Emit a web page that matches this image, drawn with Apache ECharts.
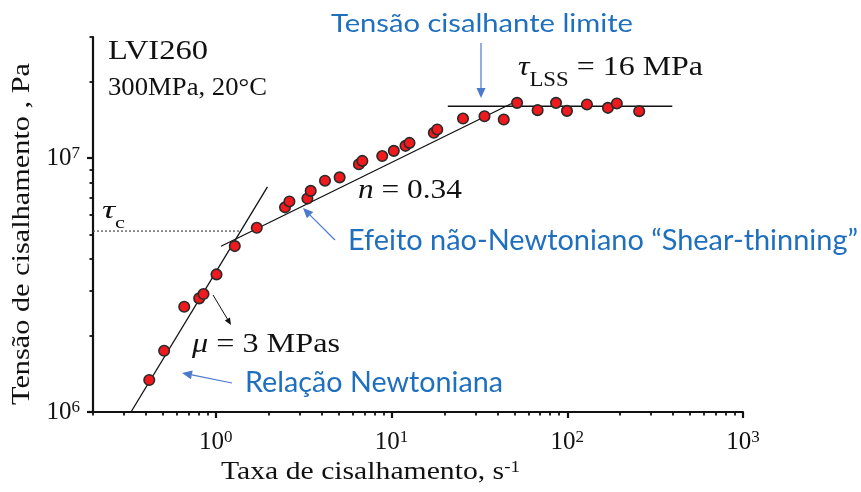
<!DOCTYPE html>
<html>
<head>
<meta charset="utf-8">
<script src="https://cdn.jsdelivr.net/npm/echarts@6/dist/echarts.min.js"></script>
<style>
  html, body { margin: 0; padding: 0; background: #ffffff; }
  #chart { width: 861px; height: 492px; }
</style>
</head>
<body>
<div id="chart"></div>
<script>
// LVI260 at 300 MPa, 20 °C: shear stress (Pa) against shear rate (1/s)
const shearRate = [0.418, 0.508, 0.661, 0.804, 0.851, 1.009, 1.282, 1.71, 2.476, 2.623,
  3.32, 3.467, 4.18, 5.065, 6.52, 6.82, 8.85, 10.3, 12.0, 12.65,
  17.4, 18.2, 25.5, 33.8, 43.5, 51.8, 67.8, 86.3, 99.6, 129.4,
  170.3, 191.5, 256.6];
const shearStress = [1.337e6, 1.742e6, 2.598e6, 2.803e6, 2.915e6, 3.483e6, 4.503e6, 5.317e6, 6.40e6, 6.75e6,
  6.93e6, 7.43e6, 8.15e6, 8.40e6, 9.46e6, 9.75e6, 1.019e7, 1.068e7, 1.118e7, 1.148e7,
  1.258e7, 1.297e7, 1.432e7, 1.462e7, 1.419e7, 1.651e7, 1.545e7, 1.651e7, 1.535e7, 1.627e7,
  1.578e7, 1.642e7, 1.531e7];

// Newtonian branch (fitted line end points)
const newtonianRate = [0.329, 1.967];
const newtonianStress = [1.0e6, 7.71e6];

// Shear-thinning power law: stress = anchor * (rate / anchorRate)^n
const powerLawIndex = 0.34;
const powerLawAnchorRate = 9.6;
const powerLawAnchorStress = 9.48e6;
const powerLawRange = [1.07, 54];

// Limiting shear stress plateau
const limitingStress = 16e6;
const limitingRange = [20.9, 396];

// Critical stress (dotted guide)
const criticalStress = 5.16e6;
const criticalRange = [0.2, 1.39];

// Axis extents and labelled decades
const rateRange = [0.2, 1000];
const stressRange = [1e6, 3e7];
const rateDecades = [0, 1, 2, 3];
const stressDecades = [6, 7];

const L = Math.log10;
const SERIF = '"Liberation Serif", "Times New Roman", serif';
const SANS = 'Lato, "Open Sans", sans-serif';
const INK = '#111111';
const BLUE_TEXT = '#1f6fbf';
const BLUE_ARROW = '#4a7acb';

// minor tick positions (2..9 times each decade) inside a range
function minorTicks(range) {
  const out = [];
  for (let e = Math.floor(L(range[0])); e < Math.ceil(L(range[1])); e++) {
    for (let m = 2; m <= 9; m++) {
      const v = m * Math.pow(10, e);
      if (v >= range[0] * 0.999 && v <= range[1] * 1.001) out.push(L(v));
    }
  }
  return out;
}

const points = shearRate.map((r, i) => [L(r), L(shearStress[i])]);
const newtonianLine = newtonianRate.map((r, i) => [L(r), L(newtonianStress[i])]);
const powerLawLine = powerLawRange.map(r => [
  L(r), L(powerLawAnchorStress) + powerLawIndex * (L(r) - L(powerLawAnchorRate))
]);
const limitingLine = limitingRange.map(r => [L(r), L(limitingStress)]);
const criticalLine = criticalRange.map(r => [L(r), L(criticalStress)]);

// text measuring, used to stretch runs of text to a given span
const measure = document.createElement('canvas').getContext('2d');
function widthOf(text, font) { measure.font = font; return measure.measureText(text).width; }

function textRuns(x, y, span, runs, color, rotation) {
  let cx = 0;
  const children = runs.map(r => {
    const el = {
      type: 'text', x: cx, y: r.y,
      style: { text: r.text, font: r.font, fill: color, align: 'left', verticalAlign: 'middle' }
    };
    cx += widthOf(r.text, r.font);
    return el;
  });
  return { type: 'group', x: x, y: y, rotation: rotation || 0, scaleX: span / cx, silent: true, children: children };
}

function arrow(x1, y1, x2, y2, color, head, half, width) {
  const dx = x2 - x1, dy = y2 - y1, len = Math.hypot(dx, dy);
  const ux = dx / len, uy = dy / len;
  const bx = x2 - ux * head, by = y2 - uy * head;
  return [
    { type: 'line', silent: true, shape: { x1: x1, y1: y1, x2: bx, y2: by }, style: { stroke: color, lineWidth: width || 1.2 } },
    { type: 'polygon', silent: true, shape: { points: [[x2, y2], [bx - uy * half, by + ux * half], [bx + uy * half, by - ux * half]] }, style: { fill: color } }
  ];
}

const graphics = [
  textRuns(108, 0, 100, [{ text: 'LVI260', font: '28px ' + SERIF, y: 52 }], INK),
  textRuns(108, 0, 159, [{ text: '300MPa, 20°C', font: '25px ' + SERIF, y: 88.5 }], INK),
  textRuns(518, 0, 185, [
    { text: 'τ', font: 'italic 28px ' + SERIF, y: 67.5 },
    { text: 'LSS', font: '20px ' + SERIF, y: 80.5 },
    { text: ' = ' + (limitingStress / 1e6) + ' MPa', font: '28px ' + SERIF, y: 67.5 }
  ], INK),
  textRuns(358, 0, 104, [
    { text: 'n', font: 'italic 27px ' + SERIF, y: 191 },
    { text: ' = ' + powerLawIndex.toFixed(2), font: '27px ' + SERIF, y: 191 }
  ], INK),
  textRuns(192, 0, 148, [
    { text: 'μ', font: 'italic 27px ' + SERIF, y: 345 },
    { text: ' = 3 MPas', font: '27px ' + SERIF, y: 345 }
  ], INK),
  textRuns(102, 0, 23, [
    { text: 'τ', font: 'italic 26px ' + SERIF, y: 211 },
    { text: 'c', font: '16px ' + SERIF, y: 224 }
  ], INK),
  textRuns(221, 0, 299, [
    { text: 'Taxa de cisalhamento, s', font: '25px ' + SERIF, y: 472.6 },
    { text: '-1', font: '16px ' + SERIF, y: 467.5 }
  ], INK),
  textRuns(0, 405, 342, [
    { text: 'Tensão de cisalhamento , Pa', font: '25px ' + SERIF, y: 22 }
  ], INK, Math.PI / 2),
  textRuns(331, 0, 302, [{ text: 'Tensão cisalhante limite', font: '25px ' + SANS, y: 24 }], BLUE_TEXT),
  textRuns(348, 0, 510, [{ text: 'Efeito não-Newtoniano “Shear-thinning”', font: '28px ' + SANS, y: 241 }], BLUE_TEXT),
  textRuns(245, 0, 258, [{ text: 'Relação Newtoniana', font: '28px ' + SANS, y: 383 }], BLUE_TEXT)
]
  .concat(arrow(481, 43, 481, 98, BLUE_ARROW, 10, 4.5))
  .concat(arrow(335, 240, 303, 208, BLUE_ARROW, 10, 4.5))
  .concat(arrow(232, 383, 182, 373, BLUE_ARROW, 10, 4.5))
  .concat(arrow(213, 295, 231, 325, INK, 7, 3, 1));

// decade labels written as 10 with a raised exponent
const decadeRich = {
  b: { fontSize: 25, lineHeight: 26, fontFamily: SERIF, color: INK },
  e: { fontSize: 17, lineHeight: 14, verticalAlign: 'top', fontFamily: SERIF, color: INK }
};

const majorAxis = (min, max, decades, labelMargin) => ({
  type: 'value', min: min, max: max,
  axisLine: { show: true, onZero: false, lineStyle: { color: INK, width: 2.2 } },
  axisTick: { show: true, customValues: decades, length: 6, lineStyle: { color: INK, width: 2.2 } },
  axisLabel: {
    customValues: decades, margin: labelMargin, color: INK,
    fontFamily: SERIF, fontSize: 25,
    formatter: v => '{b|10}{e|' + Math.round(v) + '}',
    rich: decadeRich
  },
  splitLine: { show: false }
});

const minorAxis = (min, max, values) => ({
  type: 'value', min: min, max: max,
  axisLine: { show: false, onZero: false },
  axisTick: { show: true, customValues: values, length: 3.5, lineStyle: { color: INK, width: 1.8 } },
  axisLabel: { show: false },
  splitLine: { show: false }
});

const chart = echarts.init(document.getElementById('chart'));
chart.setOption({
  animation: false,
  backgroundColor: '#ffffff',
  grid: { left: 93, right: 118, top: 37, bottom: 80 },
  xAxis: [
    Object.assign(majorAxis(L(rateRange[0]), L(rateRange[1]), rateDecades, 17), { position: 'bottom' }),
    Object.assign(minorAxis(L(rateRange[0]), L(rateRange[1]), minorTicks(rateRange)), { position: 'bottom' })
  ],
  yAxis: [
    Object.assign(majorAxis(L(stressRange[0]), L(stressRange[1]), stressDecades, 13), { position: 'left' }),
    Object.assign(minorAxis(L(stressRange[0]), L(stressRange[1]), minorTicks(stressRange)), { position: 'left' })
  ],
  series: [
    { type: 'line', data: newtonianLine, showSymbol: false, symbol: 'none', silent: true, z: 2,
      lineStyle: { color: INK, width: 1.3 } },
    { type: 'line', data: powerLawLine, showSymbol: false, symbol: 'none', silent: true, z: 2,
      lineStyle: { color: INK, width: 1.3 } },
    { type: 'line', data: limitingLine, showSymbol: false, symbol: 'none', silent: true, z: 2,
      lineStyle: { color: INK, width: 1.6 } },
    { type: 'line', data: criticalLine, showSymbol: false, symbol: 'none', silent: true, z: 2,
      lineStyle: { color: '#555555', width: 1.3, type: [2, 2] } },
    { type: 'scatter', data: points, symbol: 'circle', symbolSize: 10.5, z: 3,
      itemStyle: { color: '#f01a1e', borderColor: '#2a2a2a', borderWidth: 1.6, opacity: 1 } }
  ],
  graphic: graphics
});
</script>
</body>
</html>
